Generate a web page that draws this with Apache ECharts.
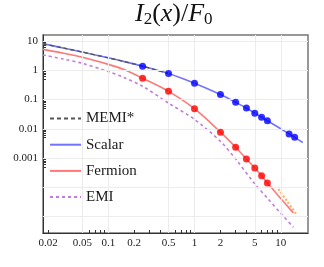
<!DOCTYPE html>
<html><head><meta charset="utf-8">
<script src="https://cdn.jsdelivr.net/npm/echarts@6/dist/echarts.min.js"></script>
<style>html,body{margin:0;padding:0;background:#fff}#c{width:324px;height:267px}</style>
</head><body><div id="c"></div>
<script>
// ---- data ----
const scalarX = [0.0175,0.03,0.05,0.1,0.15,0.25,0.5,1,2,3,4,5,6,7,10,12.5,14.5,18];
const scalarY = [7.98,5.74,4.16,2.64,2.0,1.37,0.77,0.358,0.147,0.080,0.051,0.034,0.025,0.0188,0.0100,0.0067,0.0051,0.0034];
const scalarDotX = [0.25,0.5,1,2,3,4,5,6,7,12.5,14.5];
const scalarDotY = [1.37,0.77,0.358,0.147,0.080,0.051,0.034,0.025,0.0188,0.0067,0.0051];
const fermionX = [0.0175,0.03,0.05,0.1,0.15,0.25,0.5,1,2,3,4,5,6,7,10,14];
const fermionY = [5.13,3.81,2.76,1.58,1.07,0.53,0.19,0.0485,0.00765,0.00234,0.00093,0.00046,0.00025,0.00014,0.000042,0.0000135];
const fermionDotX = [0.25,0.5,1,2,3,4,5,6,7];
const fermionDotY = [0.53,0.19,0.0485,0.00765,0.00234,0.00093,0.00046,0.00025,0.00014];
const emiX = [0.0175,0.03,0.05,0.1,0.15,0.25,0.5,1,2,3,5,7,10,14];
const emiY = [3.31,2.40,1.71,0.895,0.573,0.282,0.075,0.0209,0.0037,0.00093,0.000132,0.000043,0.000013,0.0000044];
const memiX = [0.0175,0.03,0.05,0.1,0.15,0.25,0.5];
const memiY = [7.98,5.74,4.16,2.64,2.0,1.37,0.77];
const memiFX = [9.4,12,15.4];
const memiFY = [0.000087,0.000032,0.0000114];
const legendNames = ['MEMI*','Scalar','Fermion','EMI'];
const xLabelVals = [0.02,0.05,0.1,0.2,0.5,1,2,5,10];
const xTickVals = [0.02,0.05,0.06,0.07,0.08,0.09,0.1,0.2,0.3,0.4,0.5,0.6,0.7,0.8,0.9,1,2,3,4,5,6,7,8,9,10];
const xGridVals = [0.05,0.1,0.5,1,5,10];
const yLabelVals = [10,1,0.1,0.01,0.001];
const yTickVals = [10,9,8,7,6,5,1,0.9,0.8,0.7,0.6,0.5,0.1,0.09,0.08,0.07,0.06,0.05,0.01,0.009,0.008,0.007,0.006,0.005,0.001,0.0009,0.0008,0.0007,0.0006,0.0005];
const yGridVals = [10,1,0.1,0.01,0.001,0.0001,0.00001];
const xRange = [0.0175, 20.7];
const yRange = [0.00000277, 15.9];

// ---- helpers: plot in log10 space ----
const L = v => Math.log10(v);
const pts = (xs, ys) => xs.map((x,i)=>[L(x), L(ys[i])]);
const fmt = v => { const r = Math.pow(10, v); return String(Number(r.toPrecision(1))); };
const serif = 'Liberation Serif';

const chart = echarts.init(document.getElementById('c'), null, {renderer:'canvas'});
const gridLine = {color:'#ececec', width:1, type:'solid'};
chart.setOption({
  animation:false,
  backgroundColor:'#fff',
  textStyle:{fontFamily:serif},
  graphic:[{
    type:'text', left: 135, top: 1,
    style:{
      text:'{i|I}{s|2}{n|(}{i|x}{n|)/}{i|F}{s|0}',
      fill:'#111',
      rich:{
        i:{fontFamily:serif, fontStyle:'italic', fontSize:26, lineHeight:29, verticalAlign:'middle'},
        n:{fontFamily:serif, fontSize:26, lineHeight:29, verticalAlign:'middle'},
        s:{fontFamily:serif, fontSize:17, lineHeight:16, verticalAlign:'bottom'}
      }
    }
  }],
  grid:{left:43, right:16, top:35, bottom:34, show:true, borderColor:'#777', borderWidth:1.5, backgroundColor:'transparent'},
  legend:{
    orient:'vertical', left:49, top:111, padding:0, itemWidth:31, itemHeight:14, itemGap:11.2, z:10,
    textStyle:{fontFamily:serif, fontSize:15, color:'#1a1a1a'},
    itemStyle:{opacity:0},
    data:legendNames
  },
  xAxis:{
    type:'value', min:L(xRange[0]), max:L(xRange[1]),
    axisLine:{show:true, onZero:false, lineStyle:{color:'#333', width:1}},
    splitLine:{show:false},
    axisTick:{show:true, inside:true, length:3, lineStyle:{color:'#333'}, customValues:xTickVals.map(L)},
    axisLabel:{customValues:xLabelVals.map(L), formatter:fmt, fontFamily:serif, fontSize:11, color:'#222', margin:5}
  },
  yAxis:{
    type:'value', min:L(yRange[0]), max:L(yRange[1]),
    axisLine:{show:true, onZero:false, lineStyle:{color:'#333', width:1}},
    splitLine:{show:false},
    axisTick:{show:true, inside:true, length:3, lineStyle:{color:'#333'}, customValues:yTickVals.map(L)},
    axisLabel:{customValues:yLabelVals.map(L), formatter:fmt, fontFamily:serif, fontSize:11, color:'#222', margin:5}
  },
  series:[
    {type:'line', name:'grid', data:[], silent:true, z:0,
     markLine:{silent:true, symbol:['none','none'], label:{show:false}, lineStyle:gridLine, animation:false,
       data: xGridVals.map(v=>({xAxis:L(v)})).concat(yGridVals.map(v=>({yAxis:L(v)})))}},
    {type:'line', name:'EMI', data:pts(emiX, emiY), symbol:'none', smooth:0.3, z:2,
     lineStyle:{color:'#c07ed8', width:1.6, type:[3,3]}, itemStyle:{color:'#c07ed8'}},
    {type:'line', name:'Fermion', data:pts(fermionX, fermionY), symbol:'none', smooth:0.3, z:3,
     lineStyle:{color:'#ff7777', width:1.6}, itemStyle:{color:'#ff7777'}},
    {type:'line', name:'Scalar', data:pts(scalarX, scalarY), symbol:'none', smooth:0.3, z:3,
     lineStyle:{color:'#7373ff', width:1.6}, itemStyle:{color:'#7373ff'}},
    {type:'line', name:'MEMI*', data:pts(memiX, memiY), symbol:'none', smooth:0.3, z:4,
     lineStyle:{color:'#555', width:1.4, type:[4,3]}, itemStyle:{color:'#555'}},
    {type:'line', name:'MEMI* fermion', data:pts(memiFX, memiFY), symbol:'none', smooth:0.3, z:4,
     lineStyle:{color:'#ffb060', width:2.2, type:[2,2]}, itemStyle:{color:'#ffb060'}},
    {type:'scatter', name:'Scalar pts', data:pts(scalarDotX, scalarDotY), symbolSize:7, z:5,
     itemStyle:{color:'#0000ff'}},
    {type:'scatter', name:'Fermion pts', data:pts(fermionDotX, fermionDotY), symbolSize:7, z:5,
     itemStyle:{color:'#ff0000'}}
  ]
});
</script></body></html>
